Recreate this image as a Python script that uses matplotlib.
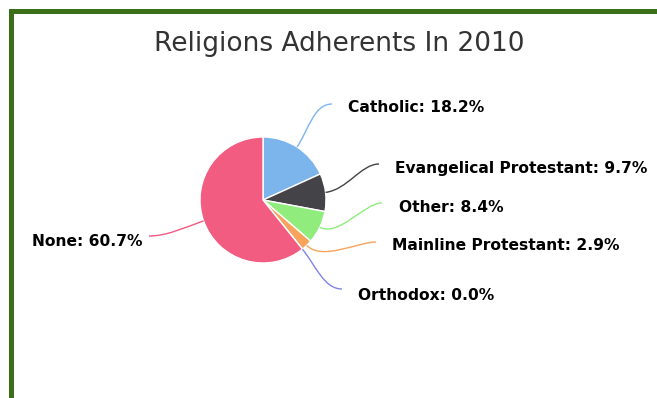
#!/usr/bin/env python3
"""
Pie chart of religious adherents in 2010, Highcharts look.
"""

import numpy as np
import matplotlib.pyplot as plt
from matplotlib.patches import Rectangle
from matplotlib.path import Path
from matplotlib.patches import PathPatch

# data
categories = ['Catholic', 'Evangelical Protestant', 'Other',
              'Mainline Protestant', 'Orthodox', 'None']
shares = [18.2, 9.7, 8.4, 2.9, 0.0, 60.7]
colors = ['#7cb5ec', '#434348', '#90ed7d', '#f7a35c', '#8085e9', '#f15c80']
title = 'Religions Adherents In 2010'

W, H = 657, 398
fig = plt.figure(figsize=(W / 100, H / 100), dpi=100)
ax = fig.add_axes([0, 0, 1, 1])

def yi(y):
    # image row -> data y
    return H - y

cx, cy, r = 263, yi(200), 63
ax.pie(shares, colors=colors, startangle=90, counterclock=False,
       center=(cx, cy), radius=r, frame=True,
       wedgeprops=dict(edgecolor='white', linewidth=1))
ax.set_xlim(0, W)
ax.set_ylim(0, H)
ax.set_aspect('equal')
ax.axis('off')

# green frame (top and left edge visible)
green = '#3b6f17'
ax.add_patch(Rectangle((9, yi(14)), W - 9, 5, color=green, lw=0))
ax.add_patch(Rectangle((9, 0), 5, yi(9), color=green, lw=0))

ax.text(339, yi(44), title, ha='center', va='center',
        fontsize=19, color='#333333')

# label layout: text anchor and connector end (image pixels)
label_xy = [(348, 108), (395, 169), (399, 208), (392, 245), (358, 295), (143, 241)]
conn_end = [(332, 104), (379, 164), (382, 203), (376, 242), (342, 289), (149, 236)]

total = sum(shares)
start = 0.0
for name, val, col, (lx, ly), (ex, ey) in zip(categories, shares, colors,
                                               label_xy, conn_end):
    mid = (start + val / 2) / total * 2 * np.pi
    start += val
    dx, dy = np.sin(mid), np.cos(mid)
    p0 = (cx + r * dx, cy + r * dy)
    p1 = (cx + (r + 22) * dx, cy + (r + 22) * dy)
    side = 1 if ex > cx else -1
    p3 = (ex, yi(ey))
    p2 = (ex - side * 18, yi(ey))
    path = Path([p0, p1, p2, p3],
                [Path.MOVETO, Path.CURVE4, Path.CURVE4, Path.CURVE4])
    ax.add_patch(PathPatch(path, fill=False, edgecolor=col, lw=1))
    ax.text(lx, yi(ly), f'{name}: {val:.1f}%',
            ha='left' if side > 0 else 'right', va='center',
            fontsize=11.2, fontweight='bold', color='#000000')

fig.savefig('out.png', dpi=100, facecolor='white')
